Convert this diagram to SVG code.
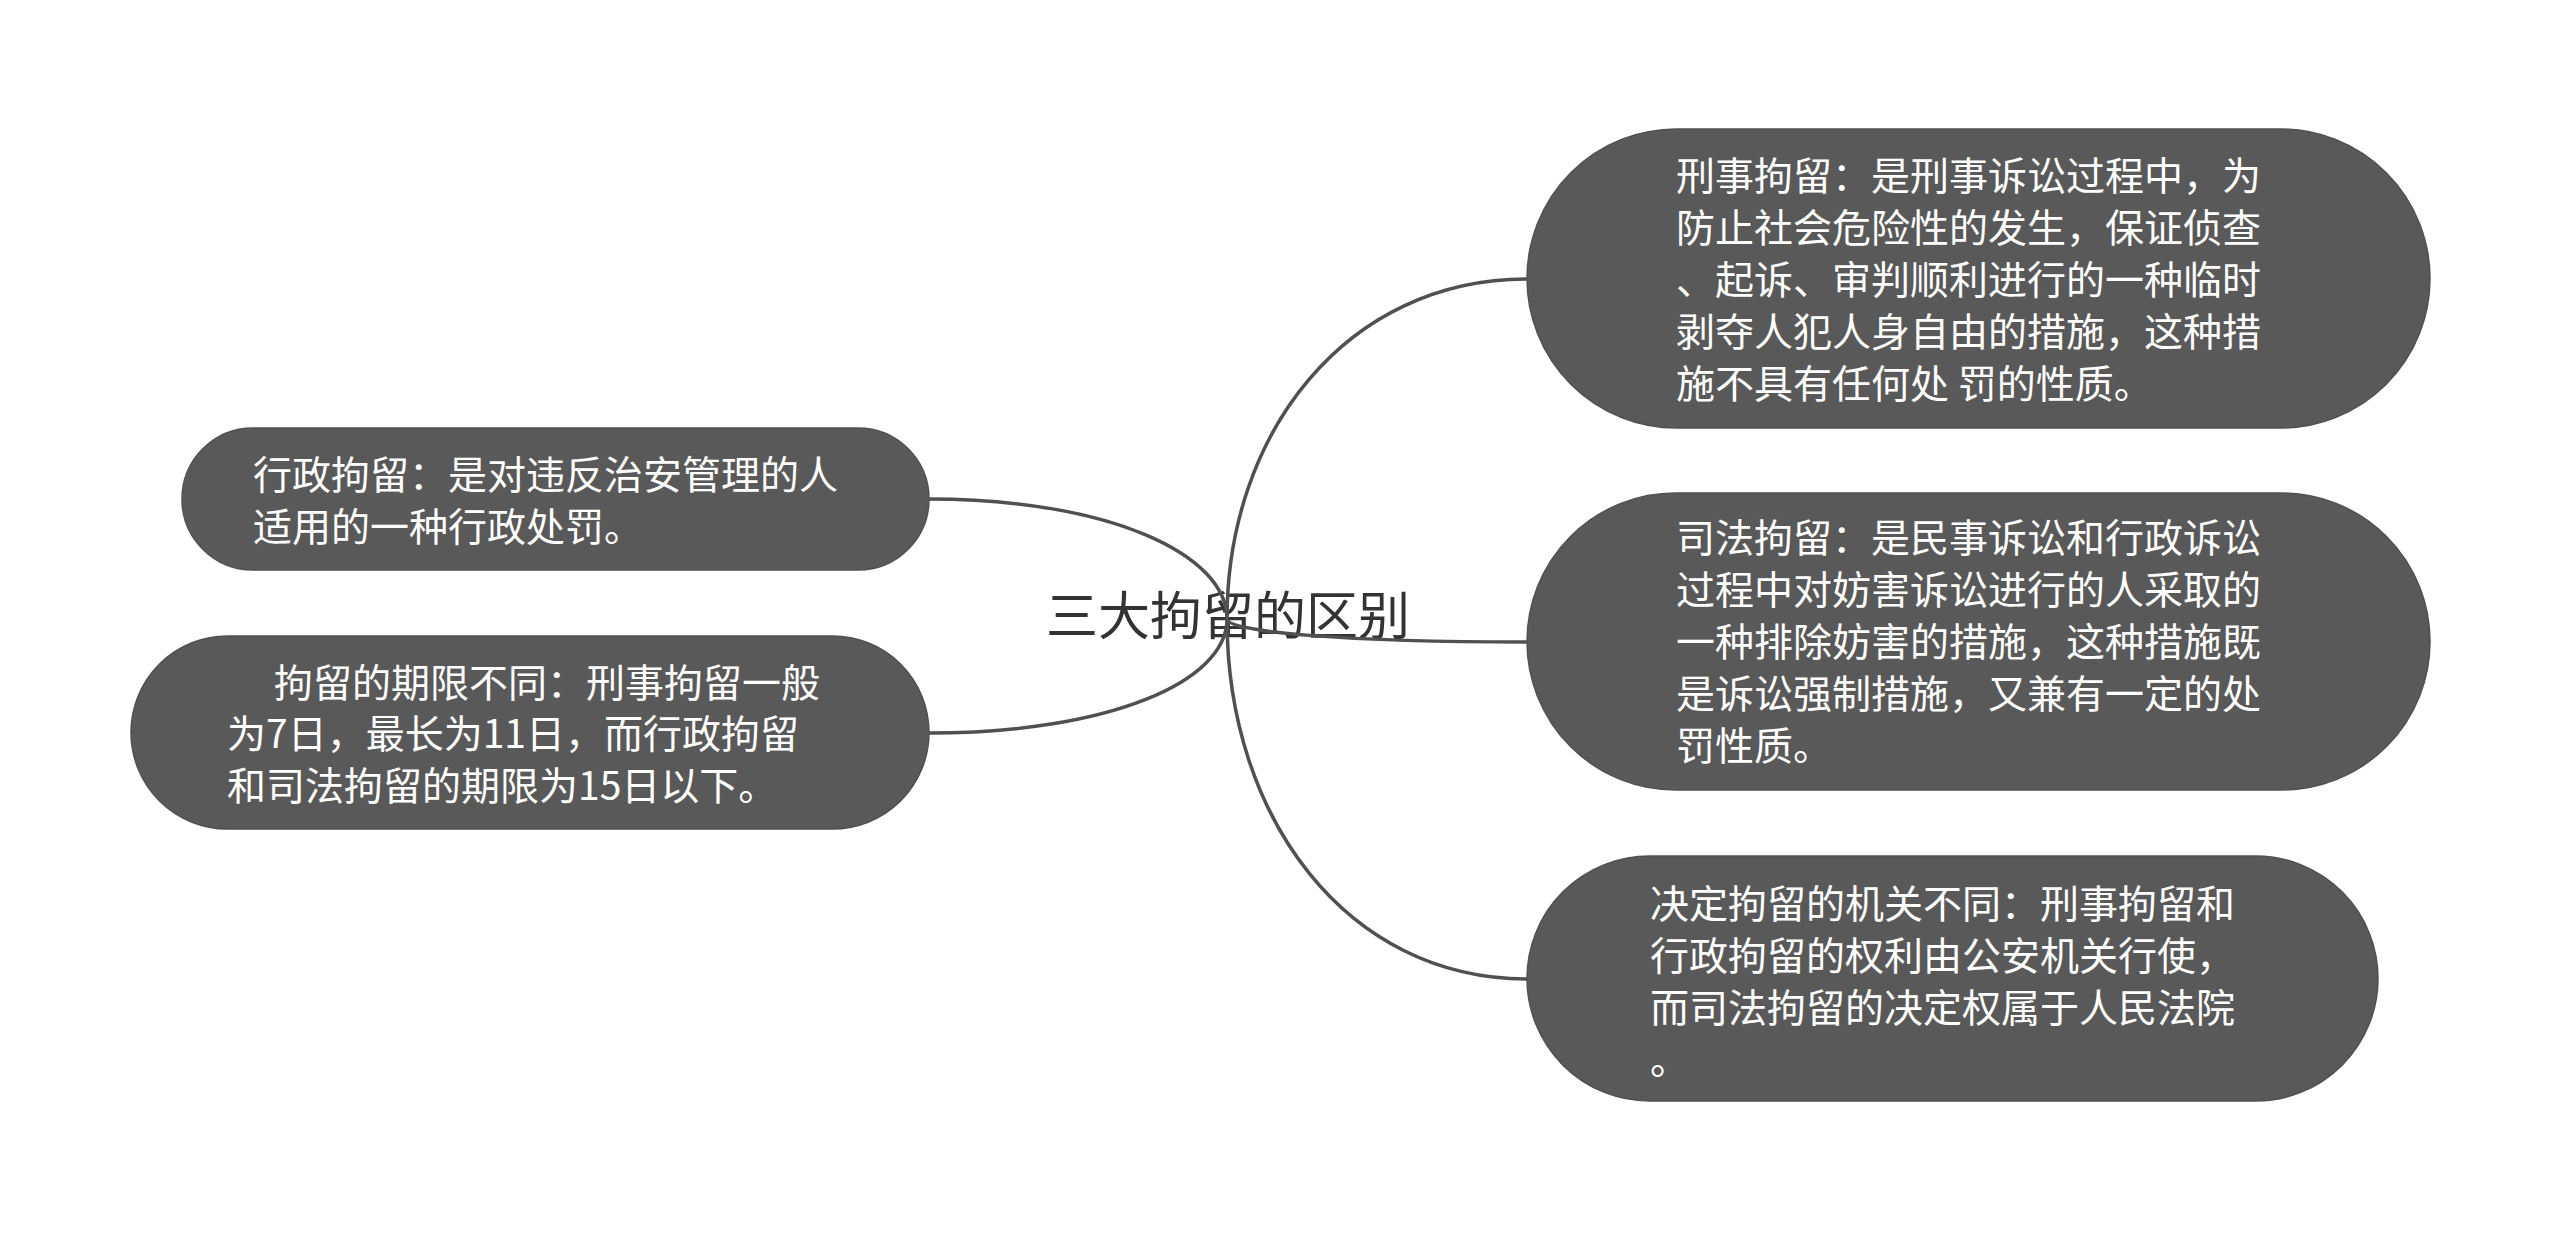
<svg xmlns="http://www.w3.org/2000/svg" width="2560" height="1233" viewBox="0 0 2560 1233">
<style>
.bg{fill:#ffffff}
.node rect{fill:#595959;stroke:#505050;stroke-width:1.5}
.node text{fill:#ffffff;font-family:"Noto Sans CJK SC","Noto Sans",sans-serif;font-size:39px}
.root text{fill:#333333;font-family:"Noto Sans CJK SC","Noto Sans",sans-serif;font-size:52px}
.conn path{fill:none;stroke:#505050;stroke-width:3.5}
</style>
<rect class="bg" x="0" y="0" width="2560" height="1233"/>
<g id="root" class="root">
<text x="1046" y="635">三大拘留的区别</text>
</g>
<g id="connectors" class="conn">
<path d="M1227 619 C1227 432 1347 279 1527 279"/>
<path d="M1227 619 C1227 632 1347 642 1527 642"/>
<path d="M1227 619 C1227 818 1347 979 1527 979"/>
<path d="M1227 619 C1227 554 1108 499 929 499"/>
<path d="M1227 619 C1227 682 1108 733 929 733"/>
</g>
<g id="node-xingshi" class="node">
<rect x="1527" y="129" width="903" height="299" rx="149.5" ry="149.5"/>
<text x="1676" y="190">刑事拘留：是刑事诉讼过程中，为</text>
<text x="1676" y="242">防止社会危险性的发生，保证侦查</text>
<text x="1676" y="294">、起诉、审判顺利进行的一种临时</text>
<text x="1676" y="346">剥夺人犯人身自由的措施，这种措</text>
<text x="1676" y="398">施不具有任何处 罚的性质。</text>
</g>
<g id="node-sifa" class="node">
<rect x="1527" y="493" width="903" height="297" rx="148.5" ry="148.5"/>
<text x="1676" y="552">司法拘留：是民事诉讼和行政诉讼</text>
<text x="1676" y="604">过程中对妨害诉讼进行的人采取的</text>
<text x="1676" y="656">一种排除妨害的措施，这种措施既</text>
<text x="1676" y="708">是诉讼强制措施，又兼有一定的处</text>
<text x="1676" y="760">罚性质。</text>
</g>
<g id="node-jiguan" class="node">
<rect x="1527" y="856" width="851" height="245" rx="122.5" ry="122.5"/>
<text x="1650" y="918">决定拘留的机关不同：刑事拘留和</text>
<text x="1650" y="970">行政拘留的权利由公安机关行使，</text>
<text x="1650" y="1022">而司法拘留的决定权属于人民法院</text>
<text x="1650" y="1074">。</text>
</g>
<g id="node-xingzheng" class="node">
<rect x="182" y="428" width="747" height="142" rx="71" ry="71"/>
<text x="253" y="489">行政拘留：是对违反治安管理的人</text>
<text x="253" y="541">适用的一种行政处罚。</text>
</g>
<g id="node-qixian" class="node">
<rect x="131" y="636" width="798" height="193" rx="96.5" ry="96.5"/>
<text x="274" y="697">拘留的期限不同：刑事拘留一般</text>
<text x="227" y="748">为7日，最长为11日，而行政拘留</text>
<text x="227" y="800">和司法拘留的期限为15日以下。</text>
</g>
</svg>
